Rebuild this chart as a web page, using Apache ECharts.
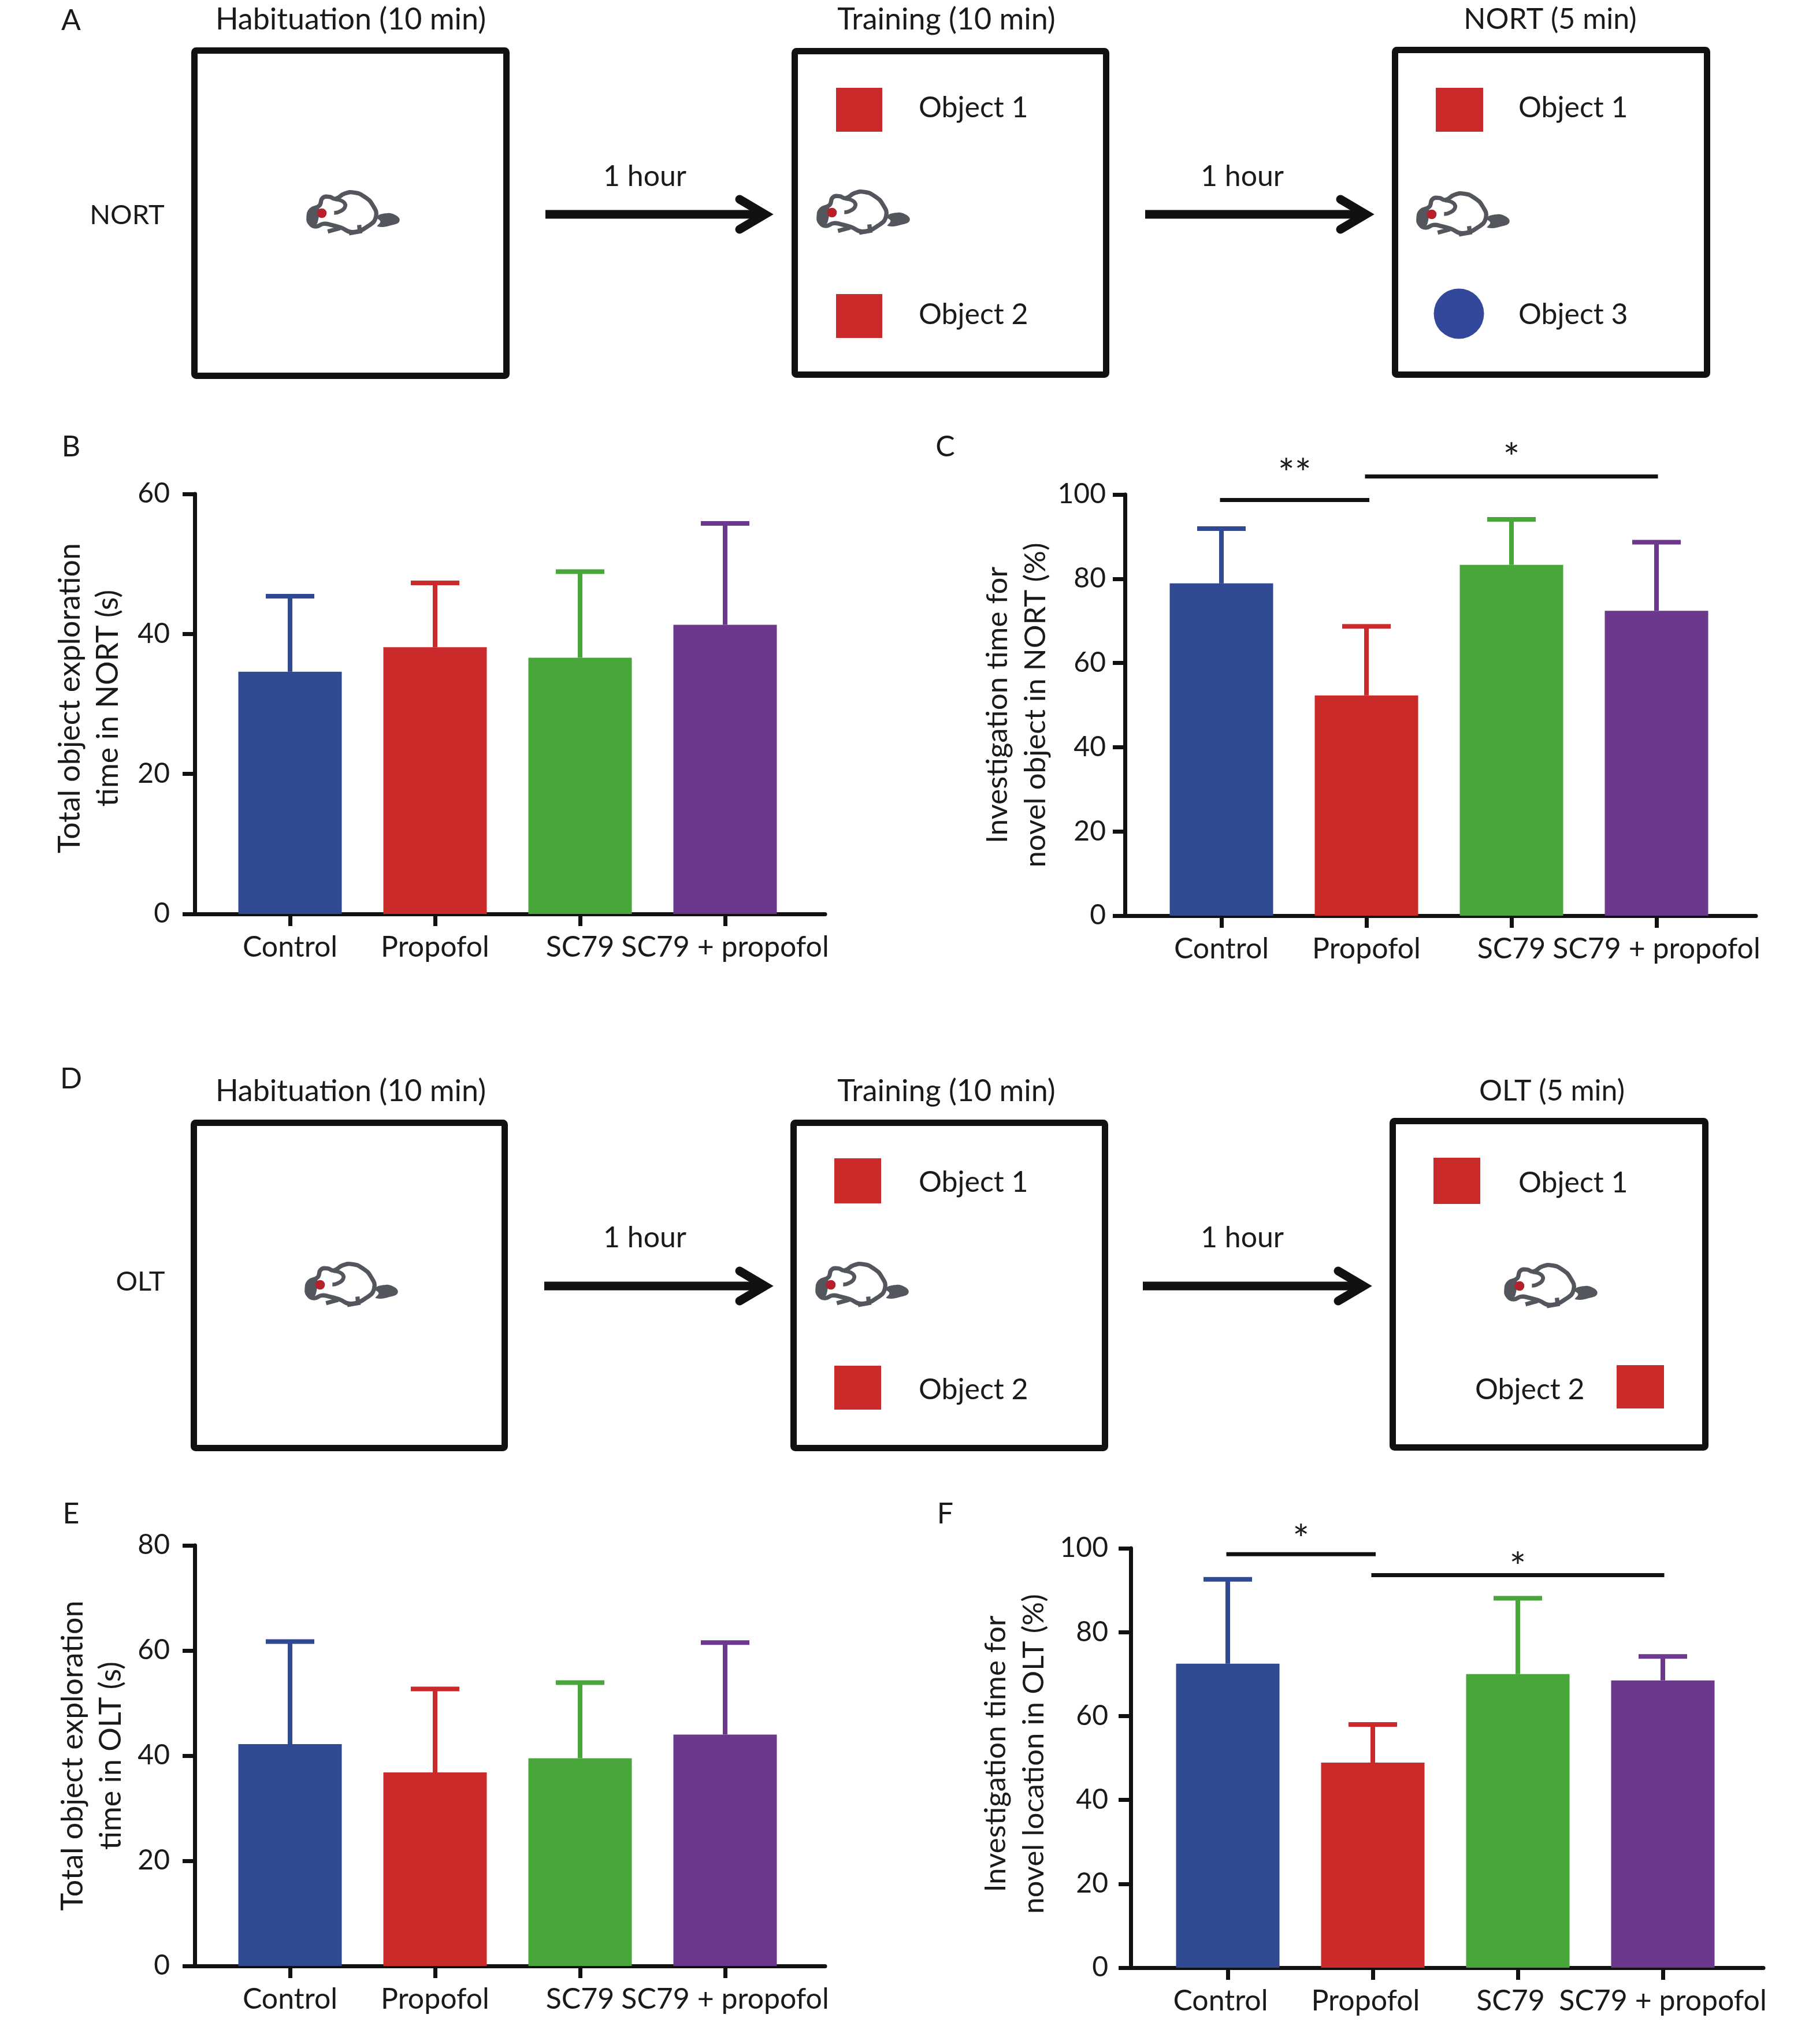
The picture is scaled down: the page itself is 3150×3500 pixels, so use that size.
<!DOCTYPE html>
<html>
<head>
<meta charset="utf-8">
<style>html,body{margin:0;padding:0;background:#fff}#main{width:3150px;height:3500px}</style>
<script src="https://cdn.jsdelivr.net/npm/echarts@6/dist/echarts.min.js"></script>
</head>
<body>
<div id="main"></div>
<script>
const categories = ['Control', 'Propofol', 'SC79', 'SC79 + propofol']
const barColors = ['#2f4a93', '#cb2a2a', '#49a63b', '#6c388c']

const nortTotalMean = [34.6, 38.1, 36.6, 41.3]
const nortTotalUpper = [45.4, 47.3, 48.9, 55.8]
const nortNovelMean = [78.9, 52.3, 83.3, 72.4]
const nortNovelUpper = [91.9, 68.7, 94.1, 88.7]
const oltTotalMean = [42.2, 36.8, 39.5, 44.0]
const oltTotalUpper = [61.7, 52.7, 53.9, 61.5]
const oltNovelMean = [72.5, 48.9, 70.0, 68.5]
const oltNovelUpper = [92.6, 58.0, 88.1, 74.2]

// from, to, line level, star, star level
const nortNovelSig = [[-0.01, 1.02, 98.7, '**', 106.7], [0.99, 3.01, 104.3, '*', 110.4]]
const oltNovelSig = [[-0.01, 1.02, 98.6, '*', 103.9], [0.99, 3.01, 93.6, '*', 97.2]]

const FONT = 'Lato'
const INK = '#1a1a1a'
const TEXT_SIZE = 50

function errorBar(params, api) {
  const x = api.value(0)
  const top = api.coord([x, api.value(2)])
  const base = api.coord([x, api.value(1)])
  const color = barColors[params.dataIndex]
  return {
    type: 'group',
    children: [
      { type: 'rect', shape: { x: top[0] - 4, y: top[1], width: 8, height: base[1] - top[1] }, style: { fill: color } },
      { type: 'rect', shape: { x: top[0] - 42, y: top[1] - 4, width: 84, height: 8 }, style: { fill: color } },
    ],
  }
}

function sigBar(sig, api) {
  const a = api.coord([sig[0], sig[2]])
  const b = api.coord([sig[1], sig[2]])
  const star = api.coord([(sig[0] + sig[1]) / 2, sig[4]])
  return {
    type: 'group',
    children: [
      { type: 'rect', shape: { x: a[0], y: a[1] - 3.5, width: b[0] - a[0], height: 7 }, style: { fill: '#111' } },
      { type: 'text', x: star[0], y: star[1] + 14, style: { text: sig[3], font: '68px ' + FONT, fill: INK, align: 'center', verticalAlign: 'middle' } },
    ],
  }
}

const panels = [
  { left: 337, right: 1428, top: 855, bottom: 1582, firstCenter: 502, step: 251, max: 60, interval: 20, mean: nortTotalMean, upper: nortTotalUpper, sig: null,
    name: 'Total object exploration\ntime in NORT (s)', nameGap: 117, nameSize: 52, shift: 20, tickMargin: 43, labelAt: [0, 1, 2, 3] },
  { left: 1947, right: 3039, top: 856, bottom: 1585, firstCenter: 2114, step: 251, max: 100, interval: 20, mean: nortNovelMean, upper: nortNovelUpper, sig: nortNovelSig,
    name: 'Investigation time for\nnovel object in NORT (%)', nameGap: 121, nameSize: 51, shift: 0, tickMargin: 33, labelAt: [0, 1, 2, 3] },
  { left: 337, right: 1428, top: 2675, bottom: 3403, firstCenter: 502, step: 251, max: 80, interval: 20, mean: oltTotalMean, upper: oltTotalUpper, sig: null,
    name: 'Total object exploration\ntime in OLT (s)', nameGap: 112, nameSize: 52, shift: 0, tickMargin: 43, labelAt: [0, 1, 2, 3] },
  { left: 1957, right: 3052, top: 2680, bottom: 3406, firstCenter: 2125, step: 251, max: 100, interval: 20, mean: oltNovelMean, upper: oltNovelUpper, sig: oltNovelSig,
    name: 'Investigation time for\nnovel location in OLT (%)', nameGap: 134, nameSize: 51, shift: 14, tickMargin: 39, labelAt: [-0.05, 0.95, 1.95, 3] },
]

const grid = [], xAxis = [], yAxis = [], series = []
panels.forEach((p, i) => {
  grid.push({ left: p.left, top: p.top, width: p.right - p.left, height: p.bottom - p.top })
  xAxis.push({
    type: 'value', gridIndex: i,
    min: (p.left - p.firstCenter) / p.step,
    max: (p.right - p.firstCenter) / p.step,
    splitLine: { show: false },
    axisLine: { show: true, onZero: false, lineStyle: { color: '#111', width: 7 } },
    axisTick: { show: true, length: 21, customValues: [0, 1, 2, 3], lineStyle: { color: '#111', width: 7 } },
    axisLabel: { show: true, customValues: p.labelAt, margin: 33, color: INK, fontFamily: FONT, fontSize: TEXT_SIZE, hideOverlap: false,
      formatter: (v) => categories[Math.round(v)] },
  })
  yAxis.push({
    type: 'value', gridIndex: i, min: 0, max: p.max, interval: p.interval,
    splitLine: { show: false },
    axisLine: { show: true, onZero: false, lineStyle: { color: '#111', width: 7 } },
    axisTick: { show: true, length: 21, lineStyle: { color: '#111', width: 7 } },
    axisLabel: { margin: p.tickMargin, color: INK, fontFamily: FONT, fontSize: 48 },
    name: p.name, nameLocation: 'middle', nameGap: p.nameGap, nameRotate: 90,
    nameTextStyle: { color: INK, fontFamily: FONT, fontSize: p.nameSize, lineHeight: 66, padding: [0, 0, 0, p.shift] },
  })
  series.push({
    type: 'bar', xAxisIndex: i, yAxisIndex: i, barWidth: 179,
    data: p.mean.map((v, k) => ({ value: [k, v], itemStyle: { color: barColors[k] } })),
  })
  series.push({
    type: 'custom', xAxisIndex: i, yAxisIndex: i, renderItem: errorBar, clip: false,
    data: p.mean.map((v, k) => [k, v, p.upper[k]]),
  })
  if (p.sig) {
    series.push({
      type: 'custom', xAxisIndex: i, yAxisIndex: i, clip: false,
      renderItem: (params, api) => sigBar(p.sig[params.dataIndex], api),
      data: p.sig.map((s) => [(s[0] + s[1]) / 2, s[2]]),
    })
  }
})

// schematic parts
function label(text, x, y, align, size) {
  return { type: 'text', x, y: y + 2, style: { text, font: (size || TEXT_SIZE) + 'px ' + FONT, fill: INK, align: align || 'center', verticalAlign: 'middle' } }
}
function box(x0, y0, x1, y1) {
  return { type: 'rect', shape: { x: x0 + 5.5, y: y0 + 5.5, width: x1 - x0 - 11, height: y1 - y0 - 11, r: 3 }, style: { fill: 'none', stroke: '#111', lineWidth: 11 } }
}
function square(x0, y0, x1, y1) {
  return { type: 'rect', shape: { x: x0, y: y0, width: x1 - x0, height: y1 - y0 }, style: { fill: '#cb2a2a' } }
}
function arrow(x0, x1, y) {
  return { type: 'group', children: [
    { type: 'line', shape: { x1: x0, y1: y, x2: x1 - 8, y2: y }, style: { stroke: '#111', lineWidth: 15 } },
    { type: 'polyline', shape: { points: [[x1 - 50, y - 26], [x1 - 6, y], [x1 - 50, y + 26]] }, style: { stroke: '#111', lineWidth: 15, fill: 'none', lineCap: 'round' } },
  ] }
}
// traced in a 780x480 box, a third of the real size
const GRAY = '#53565c'
const mouseBody = [[162, 228], [175, 190], [218, 168], [235, 128], [270, 122], [302, 132], [350, 105], [400, 100], [450, 120], [495, 165], [512, 225], [470, 275], [390, 305], [330, 282], [280, 268], [240, 262], [200, 276], [170, 260]]
const mouseTail = [[515, 228], [560, 208], [610, 215], [635, 245], [600, 268], [520, 276], [535, 250]]
const mouseCheek = [[165, 225], [190, 182], [215, 170], [208, 258], [185, 268]]
const mouseEar = [[300, 135], [345, 150], [350, 178], [320, 200], [295, 205]]
const mouseFeet = [[[262, 302], [325, 285]], [[372, 312], [440, 300]], [[425, 268], [428, 300]]]
function mouse(eyeX, eyeY) {
  return { type: 'group', x: eyeX - 77, y: eyeY - 69, scaleX: 1 / 3, scaleY: 1 / 3, children: [
    { type: 'polygon', shape: { points: mouseTail, smooth: 0.5 }, style: { fill: GRAY } },
    { type: 'polygon', shape: { points: mouseBody, smooth: 0.5 }, style: { fill: '#fff', stroke: GRAY, lineWidth: 22 } },
    { type: 'polygon', shape: { points: mouseCheek, smooth: 0.4 }, style: { fill: GRAY } },
    { type: 'polyline', shape: { points: mouseEar, smooth: 0.5 }, style: { fill: 'none', stroke: GRAY, lineWidth: 20 } },
    ...mouseFeet.map((pts) => ({ type: 'polyline', shape: { points: pts }, style: { stroke: GRAY, lineWidth: 22, fill: 'none' } })),
    { type: 'circle', shape: { cx: 231, cy: 207, r: 25 }, style: { fill: '#b5202a' } },
  ] }
}

const graphic = [
  label('A', 123, 34), label('B', 123, 772), label('C', 1636, 772),
  label('D', 123, 1866), label('E', 123, 2619), label('F', 1636, 2619),

  label('Habituation (10 min)', 607, 32, 'center', 52), label('Training (10 min)', 1638, 32, 'center', 52), label('NORT (5 min)', 2683, 32),
  label('NORT', 220, 371, 'center', 47), label('1 hour', 1116, 304), label('1 hour', 2150, 304),
  box(331, 82, 882, 656), box(1370, 83, 1920, 654), box(2409, 81, 2960, 654),
  arrow(944, 1330, 371), arrow(1982, 2370, 371),
  square(1447, 152, 1527, 228), square(1447, 509, 1527, 585), square(2485, 152, 2567, 228),
  { type: 'circle', shape: { cx: 2525, cy: 543, r: 43.5 }, style: { fill: '#33489a' } },
  label('Object 1', 1590, 185, 'left'), label('Object 2', 1590, 543, 'left'),
  label('Object 1', 2628, 185, 'left'), label('Object 3', 2628, 543, 'left'),
  mouse(557, 369), mouse(1440, 368), mouse(2478, 371),

  label('Habituation (10 min)', 607, 1887, 'center', 52), label('Training (10 min)', 1638, 1887, 'center', 52), label('OLT (5 min)', 2686, 1887),
  label('OLT', 243, 2217, 'center', 47), label('1 hour', 1116, 2141), label('1 hour', 2150, 2141),
  box(330, 1938, 879, 2512), box(1368, 1938, 1918, 2512), box(2405, 1935, 2957, 2511),
  arrow(942, 1330, 2226), arrow(1978, 2366, 2226),
  square(1444, 2005, 1525, 2083), square(1444, 2364, 1525, 2440), square(2481, 2004, 2562, 2084), square(2798, 2363, 2880, 2438),
  label('Object 1', 1590, 2045, 'left'), label('Object 2', 1590, 2404, 'left'),
  label('Object 1', 2628, 2046, 'left'), label('Object 2', 2553, 2404, 'left'),
  mouse(554, 2224), mouse(1438, 2224), mouse(2630, 2226),
]

const chart = echarts.init(document.getElementById('main'), null, { renderer: 'canvas' })
chart.setOption({ animation: false, backgroundColor: '#fff', grid, xAxis, yAxis, series, graphic })
</script>
</body>
</html>
